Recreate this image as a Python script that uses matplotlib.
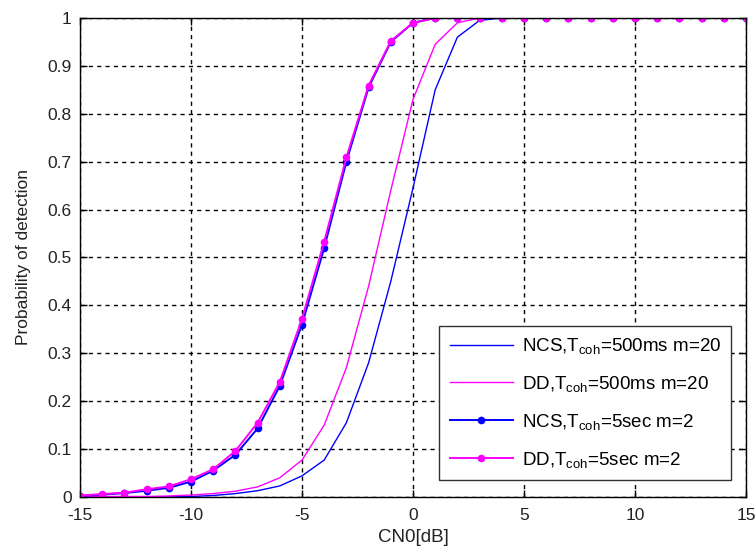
import numpy as np
import matplotlib
matplotlib.use("Agg")
import matplotlib.pyplot as plt

plt.rcParams['font.family'] = ['Liberation Sans', 'DejaVu Sans']
plt.rcParams['mathtext.fontset'] = 'custom'
plt.rcParams['mathtext.rm'] = 'Liberation Sans'
plt.rcParams['mathtext.it'] = 'Liberation Sans:italic'

cn0 = list(range(-15, 16))

# NCS, Tcoh=500ms, m=20
ncs_500 = [0.000, 0.000, 0.000, 0.000, 0.000, 0.001, 0.003, 0.007, 0.013, 0.023,
           0.044, 0.077, 0.155, 0.28, 0.45, 0.645, 0.85, 0.96, 0.995, 1.0,
           1.0, 1.0, 1.0, 1.0, 1.0, 1.0, 1.0, 1.0, 1.0, 1.0, 1.0]
# DD, Tcoh=500ms, m=20
dd_500 = [0.001, 0.001, 0.001, 0.001, 0.002, 0.004, 0.007, 0.012, 0.021, 0.04,
          0.077, 0.15, 0.27, 0.44, 0.64, 0.83, 0.945, 0.99, 1.0, 1.0,
          1.0, 1.0, 1.0, 1.0, 1.0, 1.0, 1.0, 1.0, 1.0, 1.0, 1.0]
# NCS, Tcoh=5sec, m=2
ncs_5 = [0.002, 0.005, 0.008, 0.013, 0.019, 0.032, 0.055, 0.088, 0.143, 0.232,
         0.36, 0.52, 0.70, 0.855, 0.95, 0.99, 1.0, 1.0, 1.0, 1.0,
         1.0, 1.0, 1.0, 1.0, 1.0, 1.0, 1.0, 1.0, 1.0, 1.0, 1.0]
# DD, Tcoh=5sec, m=2
dd_5 = [0.003, 0.006, 0.009, 0.016, 0.022, 0.037, 0.058, 0.096, 0.155, 0.240,
        0.372, 0.533, 0.709, 0.859, 0.952, 0.99, 1.0, 1.0, 1.0, 1.0,
        1.0, 1.0, 1.0, 1.0, 1.0, 1.0, 1.0, 1.0, 1.0, 1.0, 1.0]

labels = [r'NCS,T$_{\rm coh}$=500ms m=20', r'DD,T$_{\rm coh}$=500ms m=20',
          r'NCS,T$_{\rm coh}$=5sec m=2', r'DD,T$_{\rm coh}$=5sec m=2']

xticks = [-15, -10, -5, 0, 5, 10, 15]
yticks = [0, 0.1, 0.2, 0.3, 0.4, 0.5, 0.6, 0.7, 0.8, 0.9, 1]
yticklabels = ['0', '0.1', '0.2', '0.3', '0.4', '0.5', '0.6', '0.7', '0.8', '0.9', '1']

fig = plt.figure(figsize=(7.55, 5.54), dpi=100)
ax = fig.add_axes([0.106, 0.103, 0.882, 0.8645])

blue = '#0000FF'
mag = '#FF00FF'
ax.plot(cn0, ncs_500, color=blue, lw=1.0, label=labels[0])
ax.plot(cn0, dd_500, color=mag, lw=1.0, label=labels[1])
ax.plot(cn0, ncs_5, color=blue, lw=1.4, marker='o', ms=4.5, label=labels[2])
ax.plot(cn0, dd_5, color=mag, lw=1.4, marker='o', ms=4.5, label=labels[3])

ax.set_xlim(-15, 15)
ax.set_ylim(0, 1)
ax.set_xticks(xticks)
ax.set_xticklabels([str(v) for v in xticks])
ax.set_yticks(yticks)
ax.set_yticklabels(yticklabels)
ax.tick_params(direction='in', length=5, labelsize=12.5, top=True, right=True,
               labelcolor='#222222', width=1.0)
ax.tick_params(axis='x', pad=8)
ax.tick_params(axis='y', pad=6)
ax.grid(True, color='black', linestyle=(0, (3, 3)), linewidth=1.0)
for s in ax.spines.values():
    s.set_linewidth(1.0)
    s.set_color('black')

ax.set_xlabel('CN0[dB]', fontsize=13.5, labelpad=4, color='#222222')
ax.set_ylabel('Probability of detection', fontsize=12.5, labelpad=12, color='#222222')

leg = ax.legend(loc='lower right', bbox_to_anchor=(0.978, 0.0355), borderaxespad=0,
                fontsize=13.5, handlelength=3.4, labelspacing=0.95, fancybox=False,
                framealpha=1, edgecolor='#333333', borderpad=0.55, handletextpad=0.45)
leg.get_frame().set_linewidth(1.0)

fig.savefig('out.png', dpi=100)
